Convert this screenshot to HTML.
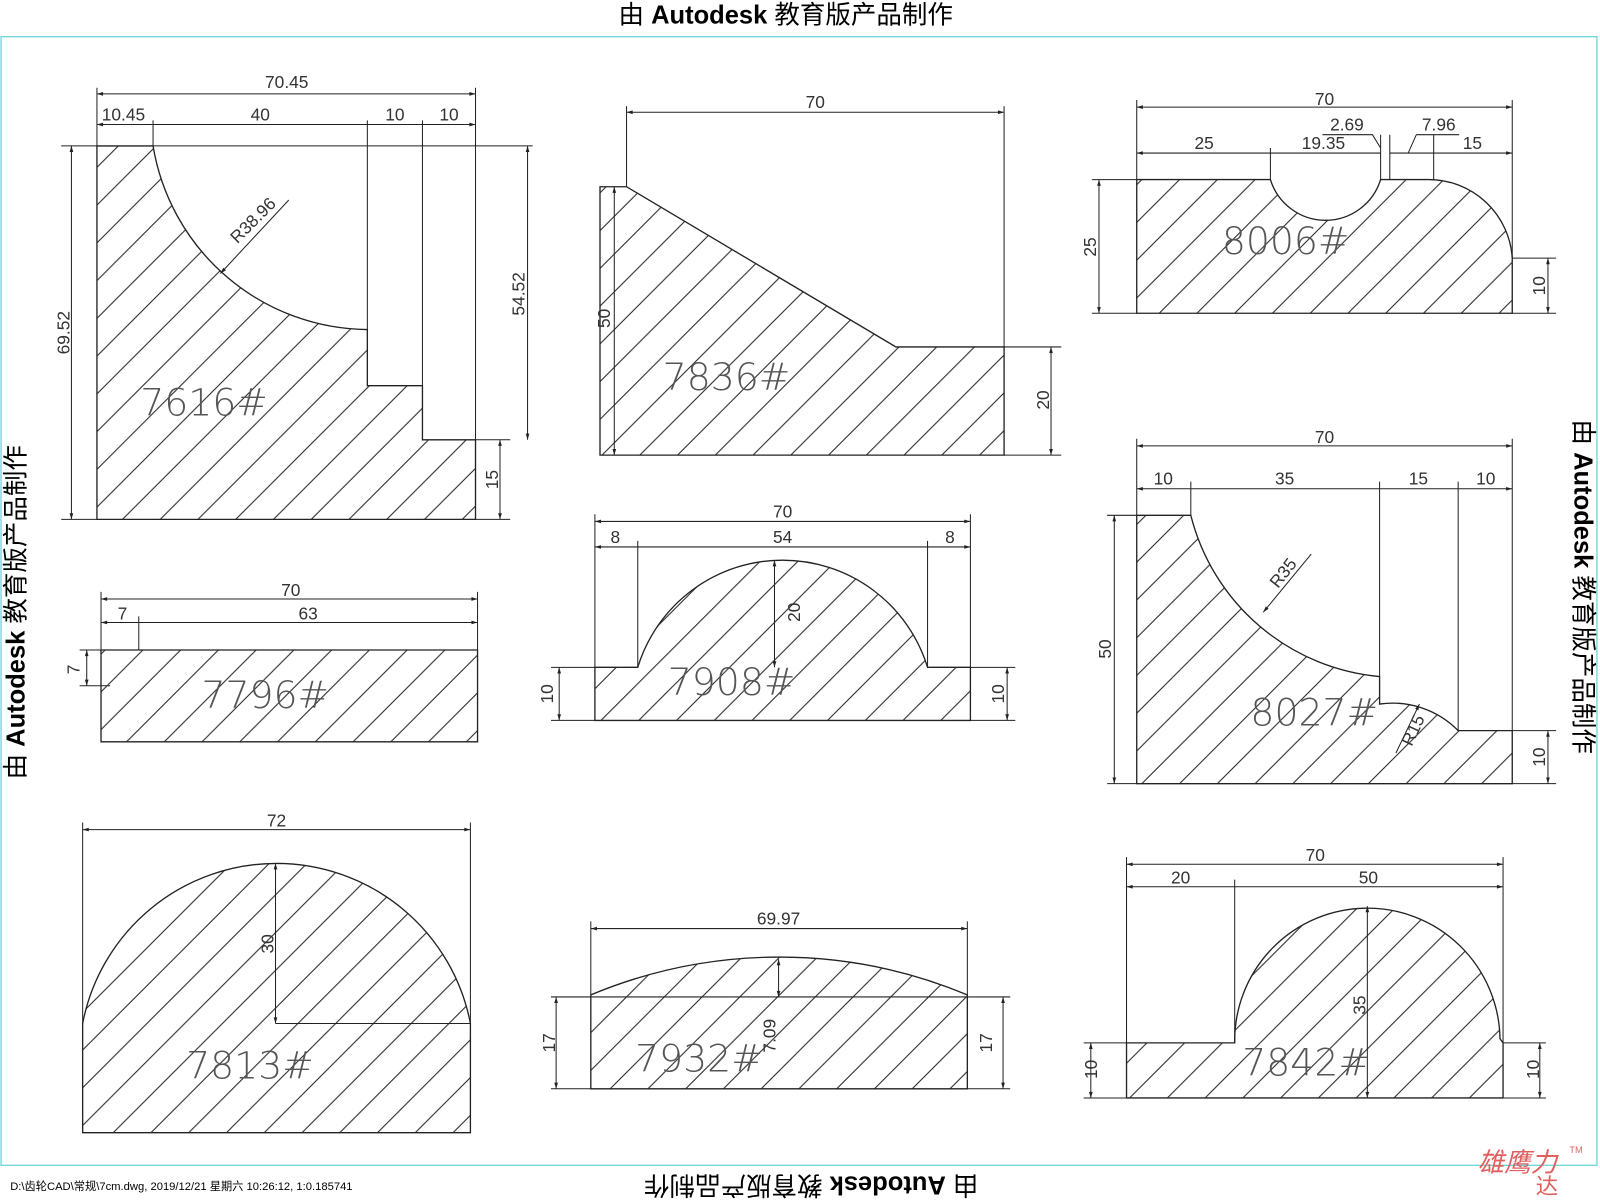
<!DOCTYPE html>
<html><head><meta charset="utf-8"><style>
html,body{margin:0;padding:0;background:#fff;}
svg{display:block;}
text{font-family:"Liberation Sans","Noto Sans CJK SC",sans-serif;}
.d{font-size:17px;fill:#333;}
.lb{font-size:37px;fill:#555;letter-spacing:0px;font-family:"DejaVu Sans","Liberation Sans",sans-serif;font-weight:200;}
.o{fill:url(#h);stroke:#222;stroke-width:1.3;}
.l{stroke:#222;stroke-width:1;fill:none;}
.dm{stroke:#222;stroke-width:1;fill:none;marker-start:url(#a);marker-end:url(#a);}
.wm{font-size:25px;fill:#000;}
</style></head><body>
<svg width="1600" height="1200" viewBox="0 0 1568 1176" xmlns="http://www.w3.org/2000/svg">
<defs>
<pattern id="h" patternUnits="userSpaceOnUse" width="37" height="37">
<rect width="37" height="37" fill="#fff"/>
<path d="M0,37 L37,0 M-5,5 L5,-5 M32,42 L42,32" stroke="#222" stroke-width="1"/>
</pattern>
<marker id="a" viewBox="0 0 10 10" refX="10" refY="5" markerWidth="10" markerHeight="6" orient="auto-start-reverse" markerUnits="userSpaceOnUse"><path d="M0,2 L10,5 L0,8z" fill="#222"/></marker>
</defs>
<rect x="1" y="36" width="1564" height="1106" fill="none" stroke="#5fd3d8" stroke-width="1.2"/>
<text class="wm" x="770" y="23" text-anchor="middle">由 <tspan font-weight="bold">Autodesk</tspan> 教育版产品制作</text>
<text class="wm" transform="translate(795,1153) rotate(180)" text-anchor="middle">由 <tspan font-weight="bold">Autodesk</tspan> 教育版产品制作</text>
<text class="wm" transform="translate(24,600) rotate(-90)" text-anchor="middle">由 <tspan font-weight="bold">Autodesk</tspan> 教育版产品制作</text>
<text class="wm" transform="translate(1543,575) rotate(90)" text-anchor="middle">由 <tspan font-weight="bold">Autodesk</tspan> 教育版产品制作</text>
<text x="10" y="1166" font-size="11" fill="#000">D:\齿轮CAD\常规\7cm.dwg, 2019/12/21 星期六 10:26:12, 1:0.185741</text>
<text x="1448" y="1148" font-size="26" fill="#e06060" font-style="italic">雄鹰力</text>
<text x="1505" y="1170" font-size="22" fill="#e06060">达</text>
<text x="1538" y="1130" font-size="9" fill="#e06060">TM</text>

<!-- 7616 -->
<path class="o" d="M95,143 L150,143 A215,215 0 0 0 360,323 L360,378 L414,378 L414,431 L466,431 L466,509 L95,509Z"/>
<path class="l" d="M360,143 V323 M414,118 V378 M466,86 V431 M150,118 V143 M95,86 V143 M150,143 H522 M466,431 H500 M466,509 H500 M60,143 H95 M60,509 H95 M360,118 V143"/>
<path class="dm" d="M95,92 H466"/><text class="d" x="281" y="86" text-anchor="middle">70.45</text>
<path class="dm" d="M95,122 H150 M150,122 H360 M360,122 H414 M414,122 H466"/>
<text class="d" x="121" y="118" text-anchor="middle">10.45</text><text class="d" x="255" y="118" text-anchor="middle">40</text><text class="d" x="387" y="118" text-anchor="middle">10</text><text class="d" x="440" y="118" text-anchor="middle">10</text>
<path class="dm" d="M70,143 V509"/><text class="d" transform="translate(68,326) rotate(-90)" text-anchor="middle">69.52</text>
<path class="dm" d="M517,143 V431"/><text class="d" transform="translate(514,288) rotate(-90)" text-anchor="middle">54.52</text>
<path class="dm" d="M490,431 V509"/><text class="d" transform="translate(488,470) rotate(-90)" text-anchor="middle">15</text>
<path class="l" d="M216,268 L283,196" marker-start="url(#a)"/><text class="d" transform="translate(252,220) rotate(-45)" text-anchor="middle">R38.96</text>
<text class="lb" x="200" y="407" text-anchor="middle">7616#</text>

<!-- 7836 -->
<path class="o" d="M588,183 L614,183 L878,340 L984,340 L984,446 L588,446Z"/>
<path class="l" d="M614,104 V183 M984,104 V340 M984,340 H1040 M984,446 H1040"/>
<path class="dm" d="M614,110 H984"/><text class="d" x="799" y="106" text-anchor="middle">70</text>
<path class="dm" d="M602,183 V446"/><text class="d" transform="translate(598,312) rotate(-90)" text-anchor="middle">50</text>
<path class="dm" d="M1030,340 V446"/><text class="d" transform="translate(1028,392) rotate(-90)" text-anchor="middle">20</text>
<text class="lb" x="712" y="382" text-anchor="middle">7836#</text>

<!-- 8006 -->
<path class="o" d="M1114,176 L1245,176 A56.5,56.5 0 0 0 1353,176 L1400,176 A82,82 0 0 1 1482,253 L1482,307 L1114,307Z"/>
<path class="l" d="M1114,98 V176 M1482,98 V253 M1245,145 V176 M1353,132 V176 M1362,132 V176 M1405,132 V176 M1070,176 H1114 M1070,307 H1114 M1482,253 H1525 M1482,307 H1525 M1296,132 H1345 L1353,145 M1388,132 H1430 M1388,132 L1380,150"/>
<path class="dm" d="M1114,105 H1482"/><text class="d" x="1298" y="103" text-anchor="middle">70</text>
<path class="dm" d="M1114,150 H1245 M1245,150 H1353 M1362,150 H1405 M1405,150 H1482"/>
<text class="d" x="1180" y="146" text-anchor="middle">25</text><text class="d" x="1297" y="146" text-anchor="middle">19.35</text><text class="d" x="1320" y="128" text-anchor="middle">2.69</text><text class="d" x="1410" y="128" text-anchor="middle">7.96</text><text class="d" x="1443" y="146" text-anchor="middle">15</text>
<path class="dm" d="M1077,176 V307"/><text class="d" transform="translate(1074,242) rotate(-90)" text-anchor="middle">25</text>
<path class="dm" d="M1517,253 V307"/><text class="d" transform="translate(1514,280) rotate(-90)" text-anchor="middle">10</text>
<text class="lb" x="1260" y="249" text-anchor="middle">8006#</text>

<!-- 7796 -->
<path class="o" d="M99,637 H468 V727 H99Z"/>
<path class="l" d="M99,580 V637 M468,580 V637 M136,604 V637 M78,637 H99 M78,672 H108"/>
<path class="dm" d="M99,587 H468"/><text class="d" x="285" y="584" text-anchor="middle">70</text>
<path class="dm" d="M99,610 H136 M136,610 H468"/><text class="d" x="120" y="607" text-anchor="middle">7</text><text class="d" x="302" y="607" text-anchor="middle">63</text>
<path class="dm" d="M85,637 V672"/><text class="d" transform="translate(78,656) rotate(-90)" text-anchor="middle">7</text>
<text class="lb" x="260" y="694" text-anchor="middle">7796#</text>

<!-- 7908 -->
<path class="o" d="M583,654 L625,654 A148.5,148.5 0 0 1 909,654 L951,654 L951,706 L583,706Z"/>
<path class="l" d="M583,504 V654 M951,504 V654 M625,530 V654 M909,530 V654 M540,654 H583 M540,706 H583 M951,654 H995 M951,706 H995"/>
<path class="dm" d="M583,511 H951"/><text class="d" x="767" y="507" text-anchor="middle">70</text>
<path class="dm" d="M583,536 H625 M625,536 H909 M909,536 H951"/><text class="d" x="603" y="532" text-anchor="middle">8</text><text class="d" x="767" y="532" text-anchor="middle">54</text><text class="d" x="931" y="532" text-anchor="middle">8</text>
<path class="dm" d="M759,549 V654"/><text class="d" transform="translate(784,600) rotate(-90)" text-anchor="middle">20</text>
<path class="dm" d="M548,654 V706"/><text class="d" transform="translate(542,680) rotate(-90)" text-anchor="middle">10</text>
<path class="dm" d="M987,654 V706"/><text class="d" transform="translate(984,680) rotate(-90)" text-anchor="middle">10</text>
<text class="lb" x="717" y="681" text-anchor="middle">7908#</text>

<!-- 8027 -->
<path class="o" d="M1114,505 L1167,505 A210,210 0 0 0 1352,663 L1352,690 A90,90 0 0 1 1429,716 L1482,716 L1482,768 L1114,768Z"/>
<path class="l" d="M1114,430 V505 M1482,430 V716 M1167,472 V505 M1352,472 V663 M1429,472 V716 M1085,505 H1114 M1085,768 H1114 M1482,716 H1525 M1482,768 H1525"/>
<path class="dm" d="M1114,437 H1482"/><text class="d" x="1298" y="434" text-anchor="middle">70</text>
<path class="dm" d="M1114,479 H1167 M1167,479 H1352 M1352,479 H1429 M1429,479 H1482"/>
<text class="d" x="1140" y="475" text-anchor="middle">10</text><text class="d" x="1259" y="475" text-anchor="middle">35</text><text class="d" x="1390" y="475" text-anchor="middle">15</text><text class="d" x="1456" y="475" text-anchor="middle">10</text>
<path class="dm" d="M1092,505 V768"/><text class="d" transform="translate(1089,636) rotate(-90)" text-anchor="middle">50</text>
<path class="dm" d="M1517,716 V768"/><text class="d" transform="translate(1514,742) rotate(-90)" text-anchor="middle">10</text>
<path class="l" d="M1238,600 L1285,543" marker-start="url(#a)"/><text class="d" transform="translate(1262,565) rotate(-52)" text-anchor="middle">R35</text>
<path class="l" d="M1368,738 L1391,690" marker-end="url(#a)"/><text class="d" transform="translate(1390,718) rotate(-65)" text-anchor="middle">R15</text>
<text class="lb" x="1288" y="711" text-anchor="middle">8027#</text>

<!-- 7813 -->
<path class="o" d="M81,1003 A193.5,193.5 0 0 1 461,1003 L461,1110 L81,1110Z"/>
<path class="l" d="M81,806 V1003 M461,806 V1003 M270,1003 H461"/>
<path class="dm" d="M81,813 H461"/><text class="d" x="271" y="810" text-anchor="middle">72</text>
<path class="dm" d="M270,846 V1003"/><text class="d" transform="translate(268,925) rotate(-90)" text-anchor="middle">30</text>
<text class="lb" x="245" y="1057" text-anchor="middle">7813#</text>

<!-- 7932 -->
<path class="o" d="M579,975 A478,478 0 0 1 948,975 L948,1067 L579,1067Z"/>
<path class="l" d="M579,903 V975 M948,903 V975 M540,977 H948 M540,1067 H579 M948,977 H990 M948,1067 H990"/>
<path class="dm" d="M579,910 H948"/><text class="d" x="763" y="906" text-anchor="middle">69.97</text>
<path class="dm" d="M763,940 V977"/><text class="d" transform="translate(760,1015) rotate(-90)" text-anchor="middle">7.09</text>
<path class="dm" d="M545,977 V1067"/><text class="d" transform="translate(544,1022) rotate(-90)" text-anchor="middle">17</text>
<path class="dm" d="M983,977 V1067"/><text class="d" transform="translate(972,1022) rotate(-90)" text-anchor="middle">17</text>
<text class="lb" x="685" y="1050" text-anchor="middle">7932#</text>

<!-- 7842 -->
<path class="o" d="M1104,1022 L1210,1022 A130,130 0 0 1 1470,1018 L1473,1022 L1473,1076 L1104,1076Z"/>
<path class="l" d="M1104,840 V1022 M1473,840 V1022 M1210,862 V1022 M1062,1022 H1104 M1062,1076 H1104 M1473,1022 H1515 M1473,1076 H1515"/>
<path class="dm" d="M1104,847 H1473"/><text class="d" x="1289" y="844" text-anchor="middle">70</text>
<path class="dm" d="M1104,869 H1210 M1210,869 H1473"/><text class="d" x="1157" y="866" text-anchor="middle">20</text><text class="d" x="1341" y="866" text-anchor="middle">50</text>
<path class="dm" d="M1340,888 V1076"/><text class="d" transform="translate(1338,985) rotate(-90)" text-anchor="middle">35</text>
<path class="dm" d="M1069,1022 V1076"/><text class="d" transform="translate(1075,1048) rotate(-90)" text-anchor="middle">10</text>
<path class="dm" d="M1509,1022 V1076"/><text class="d" transform="translate(1508,1048) rotate(-90)" text-anchor="middle">10</text>
<text class="lb" x="1280" y="1054" text-anchor="middle">7842#</text>
</svg>
</body></html>
